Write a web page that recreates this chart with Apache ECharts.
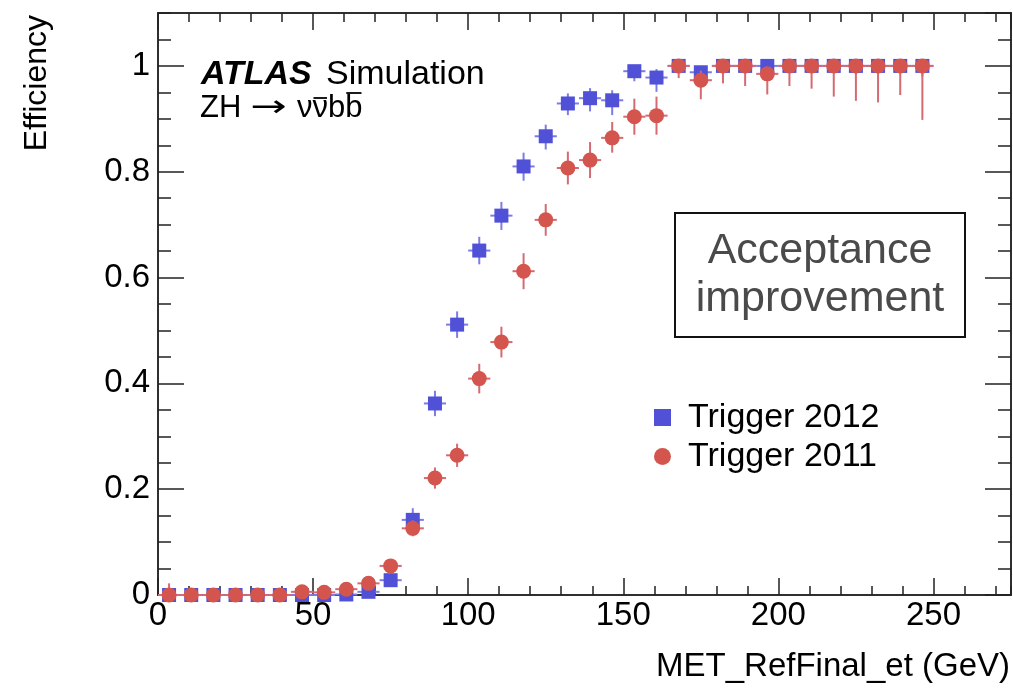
<!DOCTYPE html>
<html>
<head>
<meta charset="utf-8">
<title>Trigger efficiency vs MET_RefFinal_et</title>
<script src="https://cdn.jsdelivr.net/npm/echarts@6/dist/echarts.min.js"></script>
<style>
  html, body { margin: 0; padding: 0; background: #fff; }
  #chart { width: 1013px; height: 693px; }
</style>
</head>
<body>
<div id="chart"></div>
<script>
// Bin centres (GeV): 35 bins from 0 to 250 GeV
const binCenters = [3.57, 10.71, 17.86, 25.0, 32.14, 39.29, 46.43, 53.57, 60.71, 67.86,
  75.0, 82.14, 89.29, 96.43, 103.57, 110.71, 117.86, 125.0, 132.14, 139.29,
  146.43, 153.57, 160.71, 167.86, 175.0, 182.14, 189.29, 196.43, 203.57, 210.71,
  217.86, 225.0, 232.14, 239.29, 246.43];
const binHalfWidth = 3.57;

// Trigger 2012 efficiency and asymmetric errors
const eff2012 = [0, 0, 0, 0, 0, 0, 0, 0, 0.001, 0.006,
  0.028, 0.142, 0.362, 0.511, 0.651, 0.717, 0.810, 0.867, 0.929, 0.939,
  0.935, 0.990, 0.978, 1, 0.988, 1, 1, 1, 1, 1,
  1, 1, 1, 1, 1];
const err2012Lo = [0, 0, 0, 0, 0, 0, 0, 0, 0.001, 0.004,
  0.010, 0.022, 0.024, 0.025, 0.026, 0.027, 0.027, 0.025, 0.022, 0.025,
  0.028, 0.019, 0.027, 0.006, 0.020, 0.008, 0.008, 0.008, 0.010, 0.010,
  0.012, 0.014, 0.014, 0.012, 0.020];
const err2012Hi = [0.006, 0.003, 0.003, 0.003, 0.003, 0.003, 0.004, 0.004, 0.005, 0.008,
  0.012, 0.022, 0.024, 0.025, 0.026, 0.026, 0.026, 0.022, 0.019, 0.019,
  0.019, 0.007, 0.016, 0, 0.009, 0, 0, 0, 0, 0,
  0, 0, 0, 0, 0];

// Trigger 2011 efficiency and asymmetric errors
const eff2011 = [0, 0, 0, 0, 0, 0, 0.006, 0.005, 0.011, 0.022,
  0.055, 0.126, 0.221, 0.264, 0.409, 0.478, 0.612, 0.709, 0.807, 0.822,
  0.864, 0.904, 0.906, 1, 0.973, 1, 1, 0.985, 1, 1,
  1, 1, 1, 1, 1];
const err2011Lo = [0, 0, 0, 0, 0, 0, 0.004, 0.004, 0.006, 0.010,
  0.012, 0.015, 0.020, 0.022, 0.028, 0.029, 0.034, 0.030, 0.031, 0.034,
  0.028, 0.034, 0.036, 0.023, 0.036, 0.033, 0.038, 0.039, 0.038, 0.043,
  0.058, 0.066, 0.069, 0.055, 0.102];
const err2011Hi = [0.022, 0.006, 0.006, 0.006, 0.006, 0.006, 0.010, 0.010, 0.010, 0.012,
  0.013, 0.015, 0.020, 0.022, 0.028, 0.029, 0.034, 0.030, 0.031, 0.034,
  0.030, 0.034, 0.036, 0, 0.018, 0, 0, 0.006, 0, 0,
  0, 0, 0, 0, 0];

const xTicksMajor = 50, xTicksMinor = 10;
const yTicksMajor = 0.2, yTicksMinor = 0.05;

const FONT = '"Liberation Sans", Arial, Helvetica, sans-serif';
const BLUE = '#5151d8', BLUE_BAR = '#7c7ce4';
const RED = '#d4554d', RED_BAR = '#d46a72';

function pointData(vals) { return binCenters.map((x, i) => [x, vals[i]]); }
function errData(vals, lo, hi) { return binCenters.map((x, i) => [x, vals[i], lo[i], hi[i]]); }

function errorBars(color) {
  return function (params, api) {
    const x = api.value(0), y = api.value(1), lo = api.value(2), hi = api.value(3);
    const l = api.coord([x - binHalfWidth, y]);
    const r = api.coord([x + binHalfWidth, y]);
    const t = api.coord([x, y + hi]);
    const b = api.coord([x, y - lo]);
    const st = { stroke: color, lineWidth: 2 };
    const children = [
      { type: 'line', shape: { x1: l[0], y1: l[1], x2: r[0], y2: r[1] }, style: st }
    ];
    if (hi + lo > 0) {
      children.push({ type: 'line', shape: { x1: t[0], y1: t[1], x2: b[0], y2: b[1] }, style: st });
    }
    return { type: 'group', children: children };
  };
}

function xAxisDef(pos, interval, len, withLabels) {
  return {
    type: 'value', position: pos, min: 0, max: 275, interval: interval,
    axisLine: { show: true, onZero: false, lineStyle: { color: '#222', width: 1.5 } },
    axisTick: { show: true, inside: true, length: len, lineStyle: { color: '#222', width: 1.5 } },
    axisLabel: withLabels ? { show: true, color: '#000', fontSize: 33, fontFamily: FONT, margin: 4, showMaxLabel: false } : { show: false },
    splitLine: { show: false }
  };
}
function yAxisDef(pos, interval, len, withLabels) {
  return {
    type: 'value', position: pos, min: 0, max: 1.1, interval: interval,
    axisLine: { show: true, onZero: false, lineStyle: { color: '#222', width: 1.5 } },
    axisTick: { show: true, inside: true, length: len, lineStyle: { color: '#222', width: 1.5 } },
    axisLabel: withLabels ? { show: true, color: '#000', fontSize: 33, fontFamily: FONT, margin: 8, showMaxLabel: false } : { show: false },
    splitLine: { show: false }
  };
}

// Process label "ZH → νν̄bb̄": overlines placed from measured glyph widths
const ctx = document.createElement('canvas').getContext('2d');
const zhSize = 31;
ctx.font = zhSize + 'px ' + FONT;
const wNu = ctx.measureText('\u03BD').width;
const wB = ctx.measureText('b').width;
const zhY = 108;
const fsX = 297;

const chart = echarts.init(document.getElementById('chart'), null, { renderer: 'canvas' });
chart.setOption({
  backgroundColor: '#fff',
  animation: false,
  grid: { left: 158, right: 2, top: 13, bottom: 98, containLabel: false },
  xAxis: [
    xAxisDef('bottom', xTicksMajor, 17, true),
    xAxisDef('bottom', xTicksMinor, 9, false),
    xAxisDef('top', xTicksMajor, 17, false),
    xAxisDef('top', xTicksMinor, 9, false)
  ],
  yAxis: [
    yAxisDef('left', yTicksMajor, 26, true),
    yAxisDef('left', yTicksMinor, 13, false),
    yAxisDef('right', yTicksMajor, 26, false),
    yAxisDef('right', yTicksMinor, 13, false)
  ],
  legend: {
    orient: 'vertical', left: 654, top: 398, padding: 0, itemGap: 0,
    itemWidth: 17, itemHeight: 17,
    textStyle: { color: '#000', fontSize: 34, fontFamily: FONT, lineHeight: 25, padding: [0, 0, 14, 12] },
    data: [{ name: 'Trigger 2012', icon: 'rect' }, { name: 'Trigger 2011', icon: 'circle' }]
  },
  series: [
    { type: 'custom', name: 'err2012', z: 1, renderItem: errorBars(BLUE_BAR),
      data: errData(eff2012, err2012Lo, err2012Hi), encode: { x: 0, y: 1 } },
    { type: 'scatter', name: 'Trigger 2012', z: 2, symbol: 'rect', symbolSize: 14,
      itemStyle: { color: BLUE, opacity: 1 }, data: pointData(eff2012) },
    { type: 'custom', name: 'err2011', z: 3, renderItem: errorBars(RED_BAR),
      data: errData(eff2011, err2011Lo, err2011Hi), encode: { x: 0, y: 1 } },
    { type: 'scatter', name: 'Trigger 2011', z: 4, symbol: 'circle', symbolSize: 15,
      itemStyle: { color: RED, opacity: 1 }, data: pointData(eff2011) }
  ],
  graphic: [
    { type: 'text', left: 21, top: 15, rotation: Math.PI / 2, silent: true,
      style: { text: 'Efficiency', fontSize: 32, fontFamily: FONT, fill: '#000' } },
    { type: 'text', right: 3, top: 650, silent: true,
      style: { text: 'MET_RefFinal_et (GeV)', fontSize: 33, fontFamily: FONT, fill: '#000' } },
    { type: 'text', x: 201, y: 75, silent: true,
      style: { text: 'ATLAS', fontSize: 34, fontFamily: FONT, fontWeight: 'bold', fontStyle: 'italic', fill: '#000', verticalAlign: 'middle' } },
    { type: 'text', x: 326, y: 75, silent: true,
      style: { text: 'Simulation', fontSize: 34, fontFamily: FONT, fill: '#000', verticalAlign: 'middle' } },
    { type: 'text', x: 200, y: zhY, silent: true,
      style: { text: 'ZH', fontSize: zhSize, fontFamily: FONT, fill: '#000', verticalAlign: 'middle' } },
    { type: 'text', x: 250, y: zhY, scaleX: 1.45, silent: true,
      style: { text: '\u2192', fontSize: 30, fontFamily: '"DejaVu Sans", sans-serif', fill: '#000', verticalAlign: 'middle' } },
    { type: 'text', x: fsX, y: zhY, silent: true,
      style: { text: '\u03BD\u03BDbb', fontSize: zhSize, fontFamily: FONT, fill: '#000', verticalAlign: 'middle' } },
    { type: 'line', silent: true, shape: { x1: fsX + wNu + 1, y1: zhY - 10, x2: fsX + 2 * wNu - 1, y2: zhY - 10 },
      style: { stroke: '#000', lineWidth: 1.8 } },
    { type: 'line', silent: true, shape: { x1: fsX + 2 * wNu + wB + 1, y1: zhY - 15, x2: fsX + 2 * wNu + 2 * wB - 1, y2: zhY - 15 },
      style: { stroke: '#000', lineWidth: 1.8 } },
    { type: 'rect', silent: true, shape: { x: 675, y: 213, width: 290, height: 124 },
      style: { fill: '#fff', stroke: '#111', lineWidth: 2 } },
    { type: 'text', x: 820, y: 251, silent: true,
      style: { text: 'Acceptance', fontSize: 43, fontFamily: FONT, fill: '#4a4a4a', align: 'center', verticalAlign: 'middle' } },
    { type: 'text', x: 820, y: 299, silent: true,
      style: { text: 'improvement', fontSize: 43, fontFamily: FONT, fill: '#4a4a4a', align: 'center', verticalAlign: 'middle' } }
  ]
});
</script>
</body>
</html>
